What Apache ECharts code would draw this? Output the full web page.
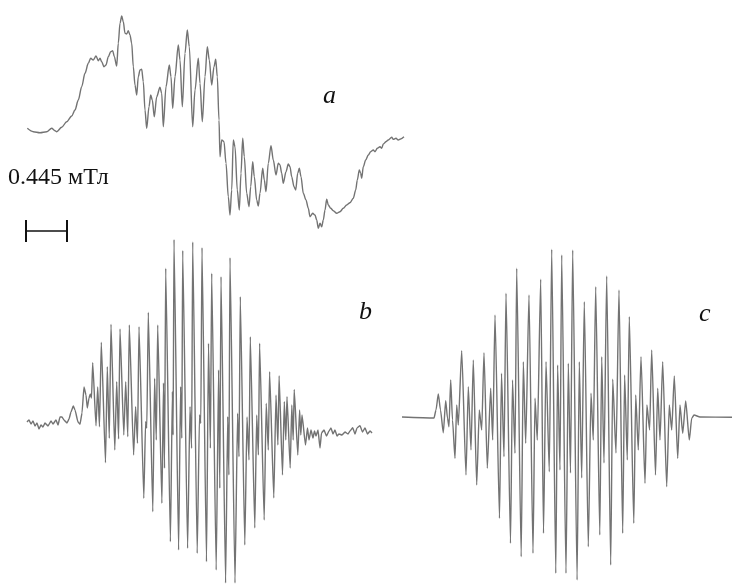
<!DOCTYPE html>
<html>
<head>
<meta charset="utf-8">
<script src="https://cdn.jsdelivr.net/npm/echarts@6/dist/echarts.min.js"></script>
<style>
  html, body { margin: 0; padding: 0; background: #fff; }
  #chart { width: 732px; height: 588px; }
</style>
</head>
<body>
<div id="chart"></div>
<script>
var specA = [
  [27.3,128.3],[33.3,131.7],[40,132.7],[46.7,131.7],[51.7,128.3],[55,130.7],[56.7,131.7],[61.7,127.3],
  [66.7,121.7],[71.7,116],[75,110],[78.3,100],[81.7,86.7],[85,73.3],[88.3,63.3],[90.7,58.3],[93.3,60],
  [96,56],[98.3,60.7],[100,58.3],[101.7,61.7],[104,66.7],[106,65],[108.3,56.7],[110.7,51.7],[112.7,50.7],
  [114.3,56.7],[116.7,66],[118.3,43.3],[120,23.3],[121.7,16],[123.3,21.7],[125,33.3],[126.7,34],
  [128.3,30.7],[130,35],[131.7,43.3],[133.3,66.7],[135,85],[136.7,95],[138.3,76.7],[140,70],[141.7,69.3],
  [143.3,81.7],[145,110],[146.7,128.3],[149,106.7],[150.7,95],[152.3,100],[154.3,116.7],[156.7,96.7],
  [160,87.3],[161.7,93.3],[163.3,126.7],[166,86.7],[169.3,65],[171,76.7],[172.7,108.3],[175,76.7],
  [178.3,45],[180,60],[182.3,106.7],[185,53.3],[187.3,30],[189.3,46.7],[192.7,126.7],[195,90],
  [198.3,58.3],[200,83.3],[202.3,121.7],[205,76.7],[207.3,46.7],[209.3,60],[211.7,85],[214,66.7],
  [215.7,59.3],[217.3,76.7],[219,120],[220,156.7],[221.7,140],[224,141.7],[226,163.3],[228.3,196.7],
  [230,215],[231.7,190],[233.3,140],[235,146.7],[237.3,190],[239.3,210],[241,173.3],[242.7,138.3],
  [244.3,156.7],[246.7,193.3],[249,206.7],[250.7,186.7],[252.7,161.7],[254.3,176.7],[256.7,200],
  [258.3,206],[260,193.3],[262.7,168.3],[264.3,180],[266,191.7],[268.3,163.3],[271,145.7],[273.3,160],
  [276,175],[278.3,163.3],[280,165],[281.7,173.3],[283.3,183.3],[286,171.7],[288.3,164],[290,166.7],
  [291.7,176.7],[294,186.7],[295.7,190],[297.7,173.3],[299.3,168.3],[301,176.7],[303.3,193.3],[306,200],
  [308.3,208.3],[310,216.7],[312.7,213.3],[315,215],[316.7,220],[318.3,228.3],[320,223.3],[321.7,226.7],
  [323.3,220],[325,210],[326.7,199.3],[328.3,205],[330.7,208.3],[333.3,210.7],[336.7,213.3],[340,211.7],
  [343.3,208.3],[346.7,205],[350,202.7],[353.3,198.3],[355.7,190],[357.3,180],[359.3,170],[360.7,173.3],
  [361.7,178.3],[363.3,166.7],[365.7,160],[368.3,155],[370.7,151.7],[373.3,150],[375,151.7],[377.3,148.3],
  [380,146.7],[381.7,148.3],[383.3,144],[386,141.7],[388.3,140],[391.7,137.3],[393.3,139.3],[396,138.3],
  [398.3,140],[400,139.3],[404,136.7]
];

// spectrum b (experimental, lower left)
var specB = [
  [27,422],[29,420],[31,424],[33,421],[35,426],[37,423],[39,429],[41,425],[43,427],[45,423],[48,426],
  [51,421],[53,424],[56,420],[58,425],[60,417],[62,417],[64,420],[67,423],[69,419],[71,412],[73.3,406],
  [75,410],[78,422],[80,424.3],[82,413],[84,387],[86,395],[87.3,408],[89,398],[90.3,394],[91.5,398],
  [92.7,362.7],[96,425.7],[97.7,387],[99.5,426.7],
  [101.3,342.3],[105.5,462.7],[107.3,366.7],[109.3,438.3],
  [111,324.3],[114.8,450],[116.7,381.7],[118.6,439],
  [120,329],[123.8,435],[125.7,381.7],[127.8,436.7],
  [129.3,325],[133.6,455],[135.6,406.7],[137.5,443.3],
  [139,326.7],[143.8,498.3],[145.6,421.7],[146.8,428],
  [148.3,312.3],[152.8,511.7],[154.6,378.3],[156.3,440],
  [157.7,325],[161.9,503.3],[163.5,383],[164.5,468.3],
  [165.7,268.3],[170.4,541.7],[172.4,391.7],[173.1,435],
  [174,239.5],[178.6,550],[180.6,386.7],[181.8,438.3],
  [182.7,250.5],[187.6,548.3],[190,406.7],[191.6,448.3],
  [192.7,242],[197.2,553.3],[199.5,415],[200.8,423.3],
  [202,247.7],[206.5,561.7],[208.5,343.3],[210.4,448.3],
  [211.7,273.3],[216.2,570],[218.6,370],[219.8,488.3],
  [221,276.7],[225.6,583],[227.7,416.7],[228.9,475],
  [230,257.7],[235,583],[237.6,413.3],[239,456.7],
  [240.3,296.7],[244.8,545],[247,417],[249,460],
  [250.3,336.7],[254.8,528],[256.7,415],[258.4,455],
  [259.6,343.3],[264.2,520],[266.2,403.3],[268.3,450],
  [269.6,371.7],[273.8,498],[276,395],[277.9,445],
  [279.1,375.7],[282.5,475],[284.3,401.7],[285.8,440],
  [287,396.7],[290.2,468],[291.8,405],[293.2,440],
  [294.2,389.5],[297.8,455],[299.6,410],[300.8,435],
  [302,415],[305.5,445],[307.5,428],[309,440],[311,430],[313,438],[314.5,431],[316,436],[318,430],
  [320,448],[321.5,433],[324,430],[326.5,436],[329,431],[331,428],[333,434],[335,430],[337,436],
  [339,434],[342,435],[345,432],[348,434],[350,431],[352.7,427.7],[355,434],[357,428],[360,425.7],
  [362.5,432],[365,428],[367.5,434],[370,431],[372,433]
];

// spectrum c (simulated, lower right)
var specC = [
  [402,417],[434,418],[436,410],[438.3,394],[440.5,410],[443.3,432.7],[445.7,400.7],[447.5,418],
  [449,426.7],[450.7,380],[452.5,420],[455,458.3],[456.7,405],[458.3,425],
  [461.7,350.7],[466,475],[468.3,386.7],[471,450],
  [473.3,360],[476.7,485],[479.3,410],[481.7,430],
  [484,352.7],[487.3,468.3],[490.7,388.3],[492.7,440],
  [495,315],[499.5,518.3],[501.5,373.3],[504,456.7],
  [506,293.3],[510.5,543.3],[512.5,380],[515,453.3],
  [516.7,268.3],[521.2,556.7],[523.3,361.7],[525.7,443.3],
  [529,295],[533,553.3],[535,398.3],[537.3,440],
  [540.7,279.3],[543.5,533.3],[546,361.7],[549.3,471.7],
  [551.7,249.3],[555.8,573.3],[557.6,365],[560,470],
  [561.7,255],[566,573.3],[568.3,363.3],[570.5,473],
  [572.7,250],[577.1,580],[579.3,361.7],[581.7,478],
  [584.3,301.7],[588.3,546.7],[591,393.3],[593.3,440],
  [595.7,286.7],[599.8,535],[601.7,356.7],[604,463],
  [606.7,276],[610.7,565],[612.7,379.3],[616,453],
  [619,290],[622.7,533.3],[624.6,375],[627.3,460],
  [629.3,316.7],[633.8,523.3],[635.7,395],[638.3,450],
  [641,356.7],[645,483.3],[646.9,405],[649.6,430],
  [651.7,350],[655.5,475],[657.7,388.3],[660,440],
  [662.7,361.7],[666.7,486.7],[669.3,405],[671.7,430],
  [674.3,376],[677.7,458.3],[680,405],[682.7,433.3],
  [685.7,401],[689.3,440],[691.7,418.3],[694,415],[700,417],[732,417.3]
];

var labels = ['a', 'b', 'c'];
var labelPos = [[323, 83], [359, 299], [699, 301]];
var scaleText = '0.445 мТл';

var chart = echarts.init(document.getElementById('chart'));

var lineStyle = { color: '#737373', width: 1.4 };

function trace(data, smooth) {
  return {
    type: 'line',
    data: data,
    showSymbol: false,
    smooth: smooth,
    smoothMonotone: 'x',
    lineStyle: lineStyle,
    silent: true,
    animation: false
  };
}

var graphics = labels.map(function (t, i) {
  return {
    type: 'text',
    left: labelPos[i][0],
    top: labelPos[i][1],
    style: { text: t, font: 'italic 26px "Liberation Serif", "DejaVu Serif", serif', fill: '#111' }
  };
});
graphics.push({
  type: 'text', left: 8, top: 166,
  style: { text: scaleText, font: '24px "Liberation Serif", "DejaVu Serif", serif', fill: '#111' }
});
// scale bar
graphics.push({ type: 'line', shape: { x1: 26, y1: 231, x2: 67, y2: 231 }, style: { stroke: '#111', lineWidth: 1.5 } });
graphics.push({ type: 'line', shape: { x1: 26, y1: 220, x2: 26, y2: 242 }, style: { stroke: '#111', lineWidth: 2 } });
graphics.push({ type: 'line', shape: { x1: 67, y1: 220, x2: 67, y2: 242 }, style: { stroke: '#111', lineWidth: 2 } });

var option = {
  backgroundColor: '#fff',
  animation: false,
  grid: { left: 0, right: 0, top: 0, bottom: 0 },
  xAxis: { type: 'value', min: 0, max: 732, show: false },
  yAxis: { type: 'value', min: 0, max: 588, inverse: true, show: false },
  series: [trace(specA, 0.3), trace(specB, 0.15), trace(specC, 0.2)],
  graphic: graphics
};

chart.setOption(option);
</script>
</body>
</html>
